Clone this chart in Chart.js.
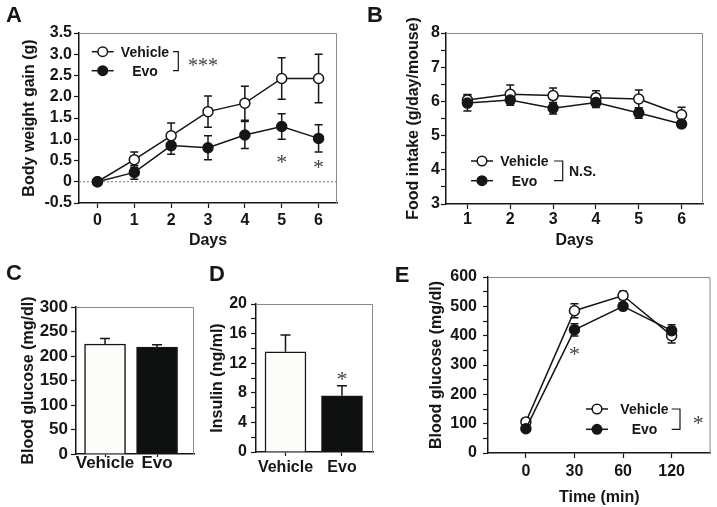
<!DOCTYPE html>
<html>
<head>
<meta charset="utf-8">
<script src="https://cdn.jsdelivr.net/npm/chart.js@4.4.0/dist/chart.umd.min.js"></script>
<style>
  html, body { margin: 0; padding: 0; background: #fff; }
  #figure { position: relative; width: 717px; height: 507px; overflow: hidden; }
  #figure canvas { position: absolute; }
</style>
</head>
<body>
<div id="figure">
  <canvas id="panelA" width="360" height="250" style="left:0;top:0"></canvas>
  <canvas id="panelB" width="357" height="250" style="left:360px;top:0"></canvas>
  <canvas id="panelC" width="200" height="257" style="left:0;top:250px"></canvas>
  <canvas id="panelD" width="180" height="257" style="left:200px;top:250px"></canvas>
  <canvas id="panelE" width="337" height="257" style="left:380px;top:250px"></canvas>
</div>
<script>
// A - body weight gain (g)
const gainDays = [0, 1, 2, 3, 4, 5, 6];
const gainVehicle = [0, 0.52, 1.08, 1.65, 1.85, 2.43, 2.43];
const gainVehicleErr = [0, 0.18, 0.3, 0.37, 0.4, 0.49, 0.57];
const gainEvo = [0, 0.22, 0.85, 0.8, 1.1, 1.3, 1.02];
const gainEvoErr = [0, 0.16, 0.2, 0.28, 0.32, 0.3, 0.32];
const gainTicks = [-0.5, 0, 0.5, 1, 1.5, 2, 2.5, 3, 3.5];

// B - food intake (g/day/mouse)
const intakeDays = [1, 2, 3, 4, 5, 6];
const intakeVehicle = [6.04, 6.21, 6.17, 6.11, 6.07, 5.61];
const intakeVehicleErr = [0.16, 0.27, 0.22, 0.2, 0.26, 0.22];
const intakeEvo = [5.95, 6.04, 5.8, 5.97, 5.66, 5.34];
const intakeEvoErr = [0.23, 0.15, 0.17, 0.15, 0.15, 0.1];
const intakeTicks = [3, 3.5, 4, 4.5, 5, 5.5, 6, 6.5, 7, 7.5, 8];

// C - fasting blood glucose (mg/dl)
const groups = ["Vehicle", "Evo"];
const glucose = [224.5, 218];
const glucoseErr = [11, 5];
const glucoseTicks = [0, 50, 100, 150, 200, 250, 300];

// D - insulin (ng/ml)
const insulin = [13.55, 7.6];
const insulinErr = [2.25, 1.35];
const insulinTicks = [0, 2, 4, 6, 8, 10, 12, 14, 16, 18, 20];

// E - glucose tolerance, blood glucose (mg/dl)
const gttTimes = ["0", "30", "60", "120"];
const gttVehicle = [106, 485, 537, 400];
const gttVehicleErr = [6, 24, 14, 25];
const gttEvo = [83, 420, 500, 417];
const gttEvoErr = [5, 21, 10, 20];
const gttTicks = [0, 50, 100, 150, 200, 250, 300, 350, 400, 450, 500, 550, 600];

const ink = "#161616";
const sansFont = "\"Liberation Sans\", Arial, sans-serif";
const serifFont = "\"Liberation Serif\", \"Times New Roman\", serif";
Chart.defaults.font.family = sansFont;
Chart.defaults.font.weight = "bold";
Chart.defaults.color = ink;

// error bars: behind points for lines, on top of bars for bars
function drawErrors(chart, forBars) {
  const ctx = chart.ctx;
  const yAxis = chart.scales.y;
  chart.data.datasets.forEach((ds, di) => {
    if (!ds.errors) return;
    const isBar = chart.config.type === "bar";
    if (isBar !== forBars) return;
    const meta = chart.getDatasetMeta(di);
    meta.data.forEach((el, i) => {
      const v = ds.data[i].y;
      const e = ds.errors[i];
      if (!e) return;
      const top = yAxis.getPixelForValue(v + e);
      const bottom = isBar ? yAxis.getPixelForValue(v) : yAxis.getPixelForValue(v - e);
      const cap = isBar ? 5 : 4;
      ctx.save();
      ctx.strokeStyle = ink;
      ctx.lineWidth = 1.5;
      ctx.beginPath();
      ctx.moveTo(el.x, top);
      ctx.lineTo(el.x, bottom);
      ctx.moveTo(el.x - cap, top);
      ctx.lineTo(el.x + cap, top);
      if (!isBar) {
        ctx.moveTo(el.x - cap, bottom);
        ctx.lineTo(el.x + cap, bottom);
      }
      ctx.stroke();
      ctx.restore();
    });
  });
}

const panelDecor = {
  id: "panelDecor",
  beforeDatasetsDraw(chart, args, opts) {
    const ctx = chart.ctx;
    const a = chart.chartArea;
    ctx.save();
    // light frame on the top and right
    ctx.strokeStyle = "#8a8a8a";
    ctx.lineWidth = 1;
    ctx.beginPath();
    ctx.moveTo(a.left, a.top + 0.5);
    ctx.lineTo(a.right - 0.5, a.top + 0.5);
    ctx.lineTo(a.right - 0.5, a.bottom);
    ctx.stroke();
    if (opts.zeroLine) {
      const y0 = chart.scales.y.getPixelForValue(0);
      ctx.setLineDash([2, 2]);
      ctx.strokeStyle = "#777";
      ctx.beginPath();
      ctx.moveTo(a.left, y0);
      ctx.lineTo(a.right, y0);
      ctx.stroke();
    }
    ctx.restore();
    drawErrors(chart, false);
  },
  afterDatasetsDraw(chart) {
    drawErrors(chart, true);
  },
  afterDraw(chart, args, opts) {
    const ctx = chart.ctx;
    const a = chart.chartArea;
    ctx.save();
    // panel letter
    ctx.fillStyle = ink;
    ctx.font = "bold 22px " + sansFont;
    ctx.textAlign = "center";
    ctx.textBaseline = "middle";
    ctx.fillText(opts.letter, opts.letterX, opts.letterY);

    // significance stars
    (opts.stars || []).forEach((s) => {
      ctx.fillStyle = "#444";
      ctx.font = "22px " + serifFont;
      ctx.textAlign = "center";
      ctx.textBaseline = "alphabetic";
      ctx.fillText("*", chart.scales.x.getPixelForValue(s.x), chart.scales.y.getPixelForValue(s.y) + 11);
    });

    // legend with bracket
    const key = opts.key;
    if (key) {
      const x0 = a.left + key.dx;
      const y0 = a.top + key.dy;
      const fills = ["#ffffff", ink];
      ctx.lineWidth = 1.5;
      ctx.strokeStyle = ink;
      chart.data.datasets.forEach((ds, row) => {
        const y = y0 + row * key.gap;
        ctx.beginPath();
        ctx.moveTo(x0 - 11, y);
        ctx.lineTo(x0 + 11, y);
        ctx.stroke();
        ctx.beginPath();
        ctx.arc(x0, y, 4.8, 0, Math.PI * 2);
        ctx.fillStyle = fills[row];
        ctx.fill();
        ctx.stroke();
        ctx.fillStyle = ink;
        ctx.font = "bold 14px " + sansFont;
        ctx.textAlign = "center";
        ctx.textBaseline = "middle";
        ctx.fillText(ds.label, x0 + key.textDx, y + 1);
      });
      ctx.lineWidth = 1.2;
      ctx.beginPath();
      ctx.moveTo(x0 + key.bx0, y0);
      ctx.lineTo(x0 + key.bx1, y0);
      ctx.lineTo(x0 + key.bx1, y0 + key.gap);
      ctx.lineTo(x0 + key.bx0, y0 + key.gap);
      ctx.stroke();
      ctx.textAlign = "left";
      if (key.serif) {
        ctx.fillStyle = "#444";
        ctx.font = key.noteSize + "px " + serifFont;
        ctx.textBaseline = "alphabetic";
        ctx.fillText(key.note, x0 + key.noteDx, y0 + key.gap / 2 + 11);
      } else {
        ctx.fillStyle = ink;
        ctx.font = "bold 14px " + sansFont;
        ctx.textBaseline = "middle";
        ctx.fillText(key.note, x0 + key.noteDx, y0 + key.gap / 2 + 1);
      }
    }
    ctx.restore();
  }
};

function yAxis(cfg) {
  return {
    type: "linear",
    min: cfg.min,
    max: cfg.max,
    afterBuildTicks: (s) => { s.ticks = cfg.ticks.map((v) => ({ value: v })); },
    afterFit: (s) => { s.width = cfg.width; },
    ticks: {
      color: ink,
      padding: cfg.pad,
      autoSkip: false,
      font: { size: cfg.size || 16, weight: "bold" },
      callback: cfg.label
    },
    grid: { drawOnChartArea: false, drawTicks: true, tickLength: 5, color: ink, tickWidth: 1.2 },
    border: { display: true, color: ink, width: 1.5 },
    title: {
      display: true,
      text: cfg.title,
      color: ink,
      font: { size: 16, weight: "bold" },
      padding: { top: cfg.titleX - 9.6, bottom: 0 }
    }
  };
}

function xAxis(cfg) {
  return {
    type: "linear",
    min: cfg.min,
    max: cfg.max,
    offset: false,
    afterBuildTicks: (s) => { s.ticks = cfg.ticks.map((v) => ({ value: v })); },
    afterFit: (s) => { s.height = cfg.height; },
    ticks: {
      color: ink,
      padding: cfg.pad,
      maxRotation: 0,
      autoSkip: false,
      font: { size: cfg.size || 16, weight: "bold" },
      callback: cfg.label
    },
    grid: { offset: false, drawOnChartArea: false, drawTicks: true, tickLength: cfg.tickLength || 5, color: ink, tickWidth: 1.2 },
    border: { display: true, color: ink, width: 1.5 },
    title: {
      display: !!cfg.title,
      text: cfg.title || "",
      color: ink,
      font: { size: 16, weight: "bold" },
      padding: { top: (cfg.titleOffset || 16) - 9.6, bottom: 0 }
    }
  };
}

function lineSets(xs, vehicle, vehicleErr, evo, evoErr) {
  const common = {
    borderColor: ink,
    borderWidth: 1.5,
    pointRadius: 5,
    pointBorderWidth: 1.5,
    pointBorderColor: ink,
    tension: 0,
    fill: false
  };
  return [
    Object.assign({}, common, {
      label: "Vehicle",
      order: 1,
      pointBackgroundColor: "#ffffff",
      data: xs.map((x, i) => ({ x: x, y: vehicle[i] })),
      errors: vehicleErr
    }),
    Object.assign({}, common, {
      label: "Evo",
      order: 0,
      pointBackgroundColor: ink,
      data: xs.map((x, i) => ({ x: x, y: evo[i] })),
      errors: evoErr
    })
  ];
}

function baseOptions(padding, decor, scales) {
  return {
    responsive: false,
    animation: false,
    layout: { padding: padding },
    plugins: {
      legend: { display: false },
      tooltip: { enabled: false },
      panelDecor: decor
    },
    scales: scales
  };
}

// Panel A
new Chart(document.getElementById("panelA"), {
  type: "line",
  data: { datasets: lineSets(gainDays, gainVehicle, gainVehicleErr, gainEvo, gainEvoErr) },
  options: baseOptions(
    { top: 33, right: 23, left: 0, bottom: 0 },
    {
      letter: "A", letterX: 14, letterY: 16, zeroLine: true,
      stars: [{ x: 5, y: 0.56 }, { x: 6, y: 0.45 }],
      key: { dx: 23.7, dy: 18.7, gap: 19, textDx: 42.3, bx0: 70.3, bx1: 75.6, noteDx: 85.3, note: "***", serif: true, noteSize: 20 }
    },
    {
      x: xAxis({ min: -0.5, max: 6.5, ticks: gainDays, height: 47, pad: 3.4, title: "Days", titleOffset: 16 }),
      y: yAxis({ min: -0.5, max: 3.5, ticks: gainTicks, width: 79, pad: 2, title: "Body weight gain (g)", titleX: 30,
        label: (v) => (v === 0 ? "0" : v.toFixed(1)) })
    }
  ),
  plugins: [panelDecor]
});

// Panel B
new Chart(document.getElementById("panelB"), {
  type: "line",
  data: { datasets: lineSets(intakeDays, intakeVehicle, intakeVehicleErr, intakeEvo, intakeEvoErr) },
  options: baseOptions(
    { top: 33, right: 14, left: 0, bottom: 0 },
    {
      letter: "B", letterX: 15, letterY: 16,
      key: { dx: 36, dy: 128, gap: 19.7, textDx: 42.5, bx0: 72, bx1: 80.7, noteDx: 87, note: "N.S.", serif: false }
    },
    {
      x: xAxis({ min: 0.5, max: 6.5, ticks: intakeDays, height: 46, pad: 1.4, title: "Days", titleOffset: 16 }),
      y: yAxis({ min: 3, max: 8, ticks: intakeTicks, width: 86, pad: 1, title: "Food intake (g/day/mouse)", titleX: 54,
        label: (v) => (Number.isInteger(v) ? String(v) : "") })
    }
  ),
  plugins: [panelDecor]
});

function barSet(values, errs) {
  return [{
    label: "value",
    data: values.map((v, i) => ({ x: i, y: v })),
    errors: errs,
    backgroundColor: ["#fcfcf8", "#0e0f0f"],
    borderColor: ink,
    borderWidth: 1.5,
    barThickness: 41
  }];
}

// Panel C
new Chart(document.getElementById("panelC"), {
  type: "bar",
  data: { datasets: barSet(glucose, glucoseErr) },
  options: baseOptions(
    { top: 57, right: 6, left: 0, bottom: 0 },
    { letter: "C", letterX: 14, letterY: 24 },
    {
      x: xAxis({ min: -0.558, max: 1.71, ticks: [0, 1], height: 53, pad: -3.5, tickLength: 3, size: 17,
        label: (v) => groups[v] }),
      y: yAxis({ min: 0, max: 300, ticks: glucoseTicks, width: 76, pad: 3, size: 17, title: "Blood glucose (mg/dl)", titleX: 29,
        label: (v) => String(v) })
    }
  ),
  plugins: [panelDecor]
});

// Panel D
new Chart(document.getElementById("panelD"), {
  type: "bar",
  data: { datasets: barSet(insulin, insulinErr) },
  options: baseOptions(
    { top: 54, right: 7, left: 0, bottom: 0 },
    { letter: "D", letterX: 17, letterY: 25, stars: [{ x: 1, y: 10.4 }] },
    {
      x: xAxis({ min: -0.522, max: 1.549, ticks: [0, 1], height: 55, pad: 2.4, tickLength: 4,
        label: (v) => groups[v] }),
      y: yAxis({ min: 0, max: 20, ticks: insulinTicks, width: 56, pad: 4, title: "Insulin (ng/ml)", titleX: 18,
        label: (v) => (v % 4 === 0 ? String(v) : "") })
    }
  ),
  plugins: [panelDecor]
});

// Panel E
new Chart(document.getElementById("panelE"), {
  type: "line",
  data: { datasets: lineSets(gttTimes.map((t, i) => i), gttVehicle, gttVehicleErr, gttEvo, gttEvoErr) },
  options: baseOptions(
    { top: 27, right: 5, left: 0, bottom: 0 },
    {
      letter: "E", letterX: 22, letterY: 26,
      stars: [{ x: 1, y: 351 }],
      key: { dx: 109, dy: 132, gap: 20.3, textDx: 47.5, bx0: 74.7, bx1: 83, noteDx: 95.7, note: "*", serif: true, noteSize: 22 }
    },
    {
      x: xAxis({ min: -0.78, max: 3.8, ticks: [0, 1, 2, 3], height: 54, pad: 4.1, title: "Time (min)", titleOffset: 22,
        label: (v) => gttTimes[v] }),
      y: yAxis({ min: 0, max: 600, ticks: gttTicks, width: 108, pad: 6, title: "Blood glucose (mg/dl)", titleX: 57,
        label: (v) => (v % 100 === 0 ? String(v) : "") })
    }
  ),
  plugins: [panelDecor]
});
</script>
</body>
</html>
